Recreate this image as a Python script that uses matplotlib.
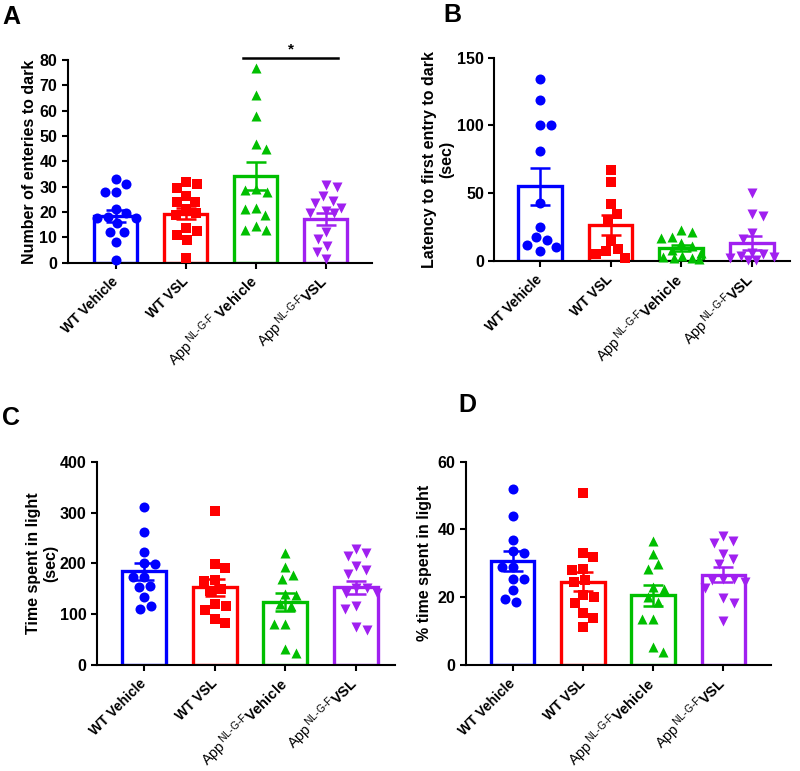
import numpy as np
import matplotlib
matplotlib.use("Agg")
import matplotlib.pyplot as plt

plt.rcParams['font.family'] = ['Liberation Sans', 'DejaVu Sans']
plt.rcParams['mathtext.fontset'] = 'custom'
plt.rcParams['mathtext.rm'] = 'Liberation Sans'
plt.rcParams['mathtext.bf'] = 'Liberation Sans:bold'
plt.rcParams['mathtext.it'] = 'Liberation Sans:italic'

# ---------------- data ----------------
groups = ["WT Vehicle", "WT VSL", "App Vehicle", "App VSL"]
colors = ["#0000FF", "#FF0000", "#00BF00", "#A020F0"]
markers = ["o", "s", "^", "v"]

# Panel A: number of entries to dark
a_wt_veh = [33, 31, 28, 28, 21, 19.5, 18, 17.5, 17.5, 15.5, 12, 12, 8, 1]
a_wt_vsl = [32, 31, 29.5, 26.5, 24, 24, 21, 19.5, 19, 13.5, 12.5, 11, 9, 2]
a_app_veh = [77, 66, 58, 47, 45, 29, 28.5, 28, 21.5, 21, 19, 14.5, 13, 13]
a_app_vsl = [30.7, 29.8, 26.5, 24.4, 23.4, 21.5, 20.4, 19.5, 19.5, 12.2, 9.2, 6.6, 4.3, 1.5]
a_mean = [18.4, 19.3, 34.3, 17.2]
a_sem = [2.5, 2.1, 5.6, 2.3]

# Panel B: latency to first entry to dark (sec)
b_wt_veh = [134, 119, 100, 100, 81, 43, 25, 17.5, 15.5, 12, 10.5, 7.5]
b_wt_vsl = [67, 58, 42, 35, 30, 15, 8.5, 7.5, 5, 2]
b_app_veh = [23, 21.5, 18, 17, 13, 11, 8, 6, 3.5, 3, 2.5, 2, 1.5]
b_app_vsl = [50, 35, 33, 21, 16, 6, 5, 4, 3, 2, 1, 1]
b_mean = [55, 26.8, 9.5, 13.2]
b_sem = [13.7, 7.3, 2.2, 5.0]

# Panel C: time spent in light (sec)
c_wt_veh = [310, 262, 223, 200, 198, 174, 173, 155, 153, 133, 116, 111]
c_wt_vsl = [303, 198, 190, 168, 166, 150, 145, 120, 117, 108, 90, 83]
c_app_veh = [220, 193, 177, 169, 140, 138, 121, 116, 80, 80, 31, 23]
c_app_vsl = [229, 220, 214, 195, 186, 180, 151, 151, 141, 141, 117, 110, 75, 69]
c_mean = [184, 153, 124, 153]
c_sem = [17, 17, 17.5, 13]

# Panel D: % time spent in light
d_wt_veh = [52, 44, 37, 33.5, 33, 29, 29, 25.5, 25.5, 22, 19.5, 18.7]
d_wt_vsl = [50.7, 33, 31.8, 28.2, 28, 25, 24.6, 20.7, 20.2, 18.4, 15.4, 14, 11.1]
d_app_veh = [36.7, 32.7, 29.7, 28.2, 23.1, 22.4, 20.2, 18.5, 13.6, 13.6, 5.4, 3.9]
d_app_vsl = [38.1, 36.6, 36.1, 32.8, 31.2, 29.8, 25.3, 25.3, 25, 24.5, 22.6, 19.7, 18.4, 13.1]
d_mean = [30.6, 24.5, 20.6, 26.7]
d_sem = [2.9, 2.8, 3.1, 2.1]

APP = r'\mathrm{App}^{\,\mathrm{NL}\text{-}\mathrm{G}\text{-}\mathrm{F}}'
labels_A = ["WT Vehicle", "WT VSL", r'$' + APP + r'\ \mathbf{Vehicle}$', r'$' + APP + r'\mathbf{VSL}$']
labels_B = ["WT Vehicle", "WT VSL", r'$' + APP + r'\mathbf{Vehicle}$', r'$' + APP + r'\mathbf{VSL}$']

W, H = 800, 771
fig = plt.figure(figsize=(W / 100, H / 100), dpi=100)


def make_ax(l, r, b, t):
    return fig.add_axes([l / W, 1 - b / H, (r - l) / W, (b - t) / H])


def swarm_x(ax, x0, vals, diam, max_off=22.0):
    vals = np.asarray(vals, float)
    tr = ax.transData
    ys = tr.transform(np.column_stack([np.full(len(vals), x0), vals]))[:, 1]
    ppu = tr.transform((1, 0))[0] - tr.transform((0, 0))[0]
    order = np.argsort(-vals, kind="stable")
    placed = []
    offs = np.zeros(len(vals))
    flip = 1
    cand_all = []
    k = 0
    while k * 0.5 <= max_off:
        cand_all.append(k)
        k += 1
    for i in order:
        y = ys[i]
        best = None
        best_score, best_fallback = -1, 0.0
        for k in cand_all:
            cands = [0.0] if k == 0 else [flip * k * 0.5, -flip * k * 0.5]
            for dx in cands:
                if placed:
                    md = min((dx - px) ** 2 + (y - py) ** 2 for px, py in placed)
                else:
                    md = 1e9
                if md >= diam ** 2:
                    best = dx
                    break
                if md > best_score:
                    best_score, best_fallback = md, dx
            if best is not None:
                break
        if best is None:
            best = best_fallback
        if best != 0:
            flip = -np.sign(best)
        placed.append((best, y))
        offs[i] = best
    return x0 + offs / ppu


def panel(ax, data, means, sems, xlim, ylim, yticks, ylabel, xlabels, label_x):
    ax.set_xlim(*xlim)
    ax.set_ylim(*ylim)
    xs = np.arange(len(data))
    ax.bar(xs, means, width=0.62, facecolor="white", edgecolor=colors,
           linewidth=2.4, zorder=2)
    for i, vals in enumerate(data):
        px = swarm_x(ax, i, vals, 11.0)
        ax.scatter(px, vals, s=52, marker=markers[i], color=colors[i],
                   linewidths=0, zorder=3, clip_on=False)
        ax.errorbar(i, means[i], yerr=sems[i], color=colors[i], capsize=7,
                    capthick=1.8, elinewidth=1.8, zorder=4, fmt="none")
    for s in ["top", "right"]:
        ax.spines[s].set_visible(False)
    for s in ["left", "bottom"]:
        ax.spines[s].set_linewidth(1.5)
    ax.set_yticks(yticks)
    ax.set_xticks(xs)
    ax.tick_params(axis="both", width=1.5, length=4, labelsize=11.5)
    ax.tick_params(axis="x", pad=8)
    for t in ax.get_yticklabels():
        t.set_fontweight("bold")
    ax.set_xticklabels(xlabels, rotation=45, ha="right", va="center",
                       rotation_mode="anchor", fontsize=10)
    for j, t in enumerate(ax.get_xticklabels()):
        t.set_fontweight("bold" if j < 2 else "normal")
        if j >= 2:
            t.set_fontsize(10.5)
    ax.set_ylabel(ylabel, fontsize=11.5, fontweight="bold")
    ax.yaxis.set_label_coords(label_x, 0.5)


axA = make_ax(67.7, 371.7, 262.7, 60)
panel(axA, [a_wt_veh, a_wt_vsl, a_app_veh, a_app_vsl], a_mean, a_sem,
      (-0.686, 3.657), (0, 80), np.arange(0, 81, 10),
      "Number of enteries to dark", labels_A, -0.10)
axA.plot([1.82, 3.18], [80.6, 80.6], color="black", lw=1.8, clip_on=False)
axA.text(2.5, 81.3, "*", ha="center", va="bottom", fontsize=11, fontweight="bold")

axB = make_ax(494.3, 790, 261, 57.7)
panel(axB, [b_wt_veh, b_wt_vsl, b_app_veh, b_app_vsl], b_mean, b_sem,
      (-0.648, 3.543), (0, 150), [0, 50, 100, 150],
      "Latency to first entry to dark\n(sec)", labels_B, -0.135)

axC = make_ax(96.7, 395, 665, 461.7)
panel(axC, [c_wt_veh, c_wt_vsl, c_app_veh, c_app_vsl], c_mean, c_sem,
      (-0.675, 3.558), (0, 400), [0, 100, 200, 300, 400],
      "Time spent in light\n(sec)", labels_B, -0.13)

axD = make_ax(465.7, 771, 665, 461.7)
panel(axD, [d_wt_veh, d_wt_vsl, d_app_veh, d_app_vsl], d_mean, d_sem,
      (-0.67, 3.68), (0, 60), [0, 20, 40, 60],
      "% time spent in light", labels_B, -0.11)

for lab, x, y in [("A", 2, 5), ("B", 443, 3), ("C", 2, 406), ("D", 458, 393)]:
    fig.text(x / W, 1 - y / H, lab, fontsize=18, fontweight="bold",
             ha="left", va="top")

fig.savefig("out.png", dpi=100)
